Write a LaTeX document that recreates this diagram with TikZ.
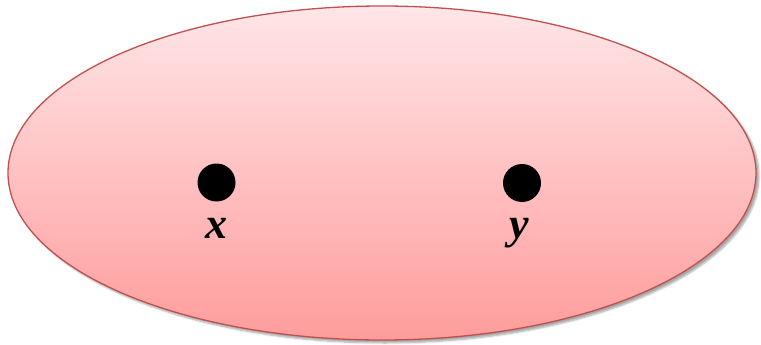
\documentclass[tikz,border=0pt]{standalone}
\usepackage{fontspec}
\setmainfont{Liberation Serif}
\usetikzlibrary{shadows.blur}
\definecolor{topc}{HTML}{FFE6E8}
\definecolor{botc}{HTML}{FF9C9C}
\definecolor{edgec}{HTML}{C0504D}
\tikzset{
  setbox/.style={draw=edgec, line width=1.3pt, top color=topc, bottom color=botc,
    blur shadow={shadow xshift=3pt, shadow yshift=-3pt, shadow blur steps=6, shadow opacity=35}},
  pt/.style={circle, fill=black, inner sep=0pt, minimum size=38pt},
  lbl/.style={font=\fontsize{44}{44}\selectfont\bfseries\itshape, inner sep=0pt}
}
\begin{document}
\begin{tikzpicture}[x=1pt,y=-1pt]
\useasboundingbox (0,0) rectangle (761,345);
\path[setbox] (382,173) ellipse [x radius=374, y radius=167];
\node[pt] (x) at (216.5,182.5) {};
\node[pt] (y) at (522,183) {};
\node[lbl, anchor=base] (xl) at (216,238) {x};
\node[lbl, anchor=base] (yl) at (519,238) {y};
\end{tikzpicture}
\end{document}
